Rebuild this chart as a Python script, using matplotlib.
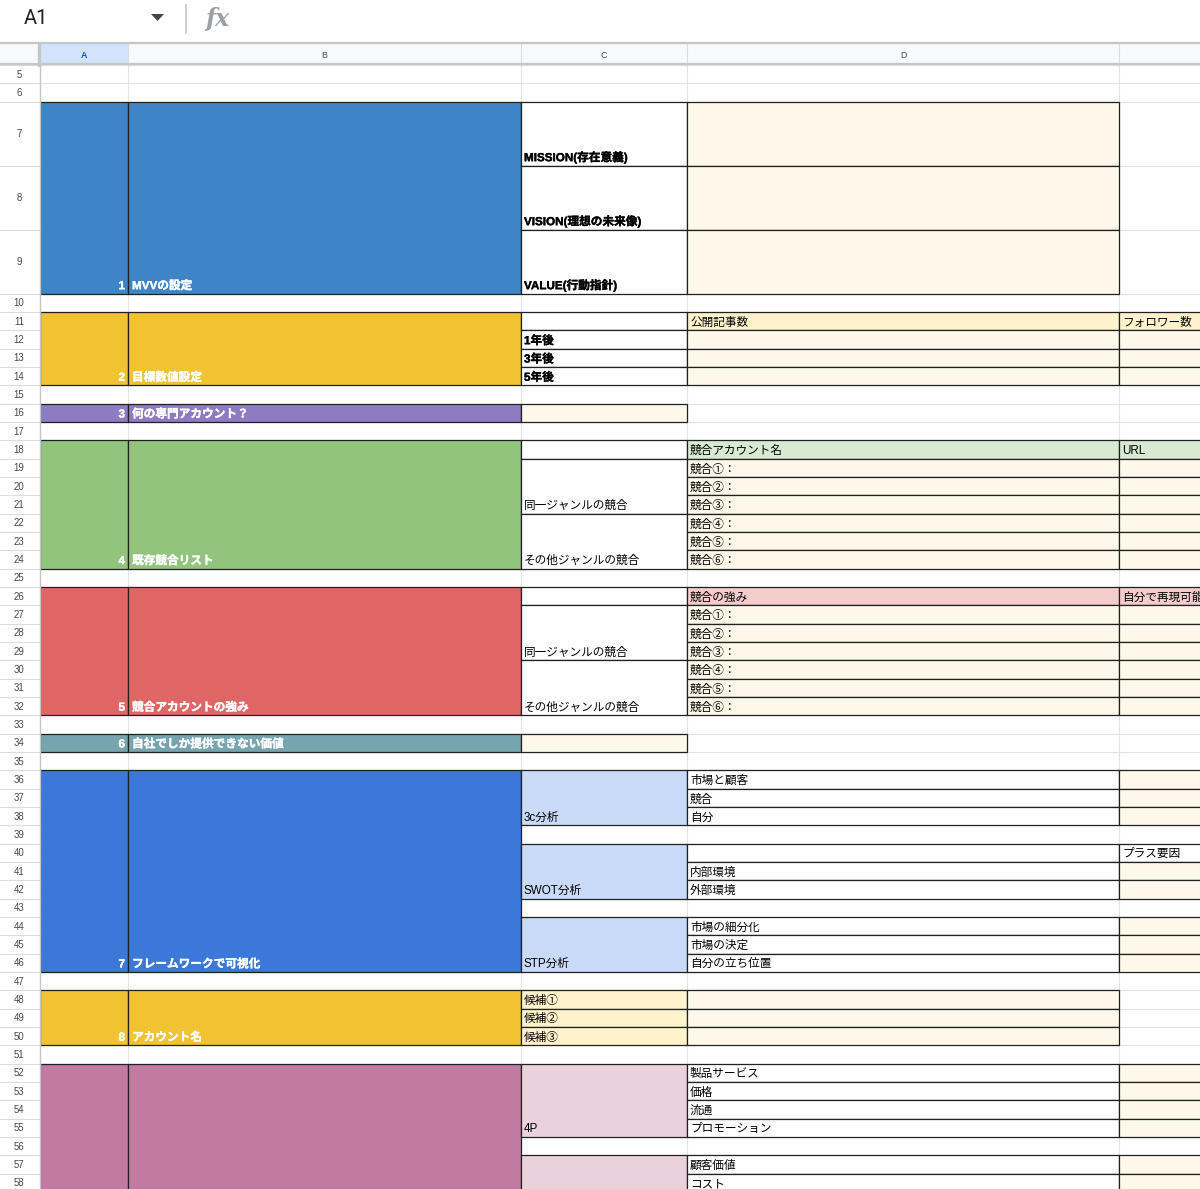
import matplotlib
matplotlib.use('Agg')
import matplotlib.pyplot as plt
import matplotlib.patheffects as pe
from matplotlib.patches import Rectangle, Polygon

# ---------------- data ----------------
col_letters = ['A', 'B', 'C', 'D', 'E']
row_numbers = list(range(5, 59))
tall_rows = [7, 8, 9]

block_nums = ['1', '2', '3', '4', '5', '6', '7', '8', '']
block_labels = ['MVVの設定', '目標数値設定', '何の専門アカウント？', '既存競合リスト',
                '競合アカウントの強み', '自社でしか提供できない価値', 'フレームワークで可視化',
                'アカウント名', '']
block_rows = [(7, 9), (11, 14), (16, 16), (18, 24), (26, 32), (34, 34), (36, 46), (48, 50), (52, 60)]
block_colors = ['#3d85c6', '#f1c232', '#8e7cc3', '#93c47d', '#e06666', '#76a5af',
                '#3c78d8', '#f1c232', '#c27ba0']

WHITE = '#ffffff'
CREAM = '#fdf8ea'
YHDR = '#fff2cc'
GHDR = '#d9ead3'
RHDR = '#f4cccc'
LBLUE = '#c9daf8'
LPINK = '#ead1dc'

# (first row, last row, text, fill, bold)
c_cells = [
    (7, 7, 'MISSION(存在意義)', WHITE, True),
    (8, 8, 'VISION(理想の未来像)', WHITE, True),
    (9, 9, 'VALUE(行動指針)', WHITE, True),
    (11, 11, '', WHITE, False),
    (12, 12, '1年後', WHITE, True),
    (13, 13, '3年後', WHITE, True),
    (14, 14, '5年後', WHITE, True),
    (16, 16, '', CREAM, False),
    (18, 18, '', WHITE, False),
    (19, 21, '同一ジャンルの競合', WHITE, False),
    (22, 24, 'その他ジャンルの競合', WHITE, False),
    (26, 26, '', WHITE, False),
    (27, 29, '同一ジャンルの競合', WHITE, False),
    (30, 32, 'その他ジャンルの競合', WHITE, False),
    (34, 34, '', CREAM, False),
    (36, 38, '3c分析', LBLUE, False),
    (40, 42, 'SWOT分析', LBLUE, False),
    (44, 46, 'STP分析', LBLUE, False),
    (48, 48, '候補①', YHDR, False),
    (49, 49, '候補②', YHDR, False),
    (50, 50, '候補③', YHDR, False),
    (52, 55, '4P', LPINK, False),
    (57, 60, '', LPINK, False),
]

d_cells = [
    (7, 7, '', CREAM, False), (8, 8, '', CREAM, False), (9, 9, '', CREAM, False),
    (11, 11, '公開記事数', YHDR, False),
    (12, 12, '', CREAM, False), (13, 13, '', CREAM, False), (14, 14, '', CREAM, False),
    (18, 18, '競合アカウント名', GHDR, False),
    (19, 19, '競合①：', CREAM, False), (20, 20, '競合②：', CREAM, False),
    (21, 21, '競合③：', CREAM, False), (22, 22, '競合④：', CREAM, False),
    (23, 23, '競合⑤：', CREAM, False), (24, 24, '競合⑥：', CREAM, False),
    (26, 26, '競合の強み', RHDR, False),
    (27, 27, '競合①：', CREAM, False), (28, 28, '競合②：', CREAM, False),
    (29, 29, '競合③：', CREAM, False), (30, 30, '競合④：', CREAM, False),
    (31, 31, '競合⑤：', CREAM, False), (32, 32, '競合⑥：', CREAM, False),
    (36, 36, '市場と顧客', WHITE, False), (37, 37, '競合', WHITE, False),
    (38, 38, '自分', WHITE, False),
    (40, 40, '', WHITE, False),
    (41, 41, '内部環境', WHITE, False), (42, 42, '外部環境', WHITE, False),
    (44, 44, '市場の細分化', WHITE, False), (45, 45, '市場の決定', WHITE, False),
    (46, 46, '自分の立ち位置', WHITE, False),
    (48, 48, '', CREAM, False), (49, 49, '', CREAM, False), (50, 50, '', CREAM, False),
    (52, 52, '製品サービス', WHITE, False), (53, 53, '価格', WHITE, False),
    (54, 54, '流通', WHITE, False), (55, 55, 'プロモーション', WHITE, False),
    (57, 57, '顧客価値', WHITE, False), (58, 58, 'コスト', WHITE, False),
]

e_cells = [
    (11, 11, 'フォロワー数', YHDR, False),
    (12, 12, '', CREAM, False), (13, 13, '', CREAM, False), (14, 14, '', CREAM, False),
    (18, 18, 'URL', GHDR, False),
    (19, 19, '', CREAM, False), (20, 20, '', CREAM, False), (21, 21, '', CREAM, False),
    (22, 22, '', CREAM, False), (23, 23, '', CREAM, False), (24, 24, '', CREAM, False),
    (26, 26, '自分で再現可能な強み', RHDR, False),
    (27, 27, '', CREAM, False), (28, 28, '', CREAM, False), (29, 29, '', CREAM, False),
    (30, 30, '', CREAM, False), (31, 31, '', CREAM, False), (32, 32, '', CREAM, False),
    (36, 36, '', CREAM, False), (37, 37, '', CREAM, False), (38, 38, '', CREAM, False),
    (40, 40, 'プラス要因', WHITE, False),
    (41, 41, '', CREAM, False), (42, 42, '', CREAM, False),
    (44, 44, '', CREAM, False), (45, 45, '', CREAM, False), (46, 46, '', CREAM, False),
    (52, 52, '', CREAM, False), (53, 53, '', CREAM, False), (54, 54, '', CREAM, False),
    (55, 55, '', CREAM, False),
    (57, 57, '', CREAM, False), (58, 58, '', CREAM, False),
]

# ---------------- layout ----------------
W, H = 1200, 1189
col_edges = [40, 128, 521, 687, 1119, 1300]
SMALL, TALL = 18.33, 64.0
HEADER_TOP, HEADER_BOTTOM = 44.0, 65.0

row_top = {}
y = HEADER_BOTTOM
for r in range(5, 62):
    row_top[r] = y
    y += TALL if r in tall_rows else SMALL


def rtop(r):
    return row_top[r]


def rbot(r):
    return row_top[r + 1]


FONT = ['Liberation Sans', 'Noto Sans CJK JP', 'DejaVu Sans']
FS = 8.4
GRID = '#e2e3e3'
BORDER = '#202020'

fig = plt.figure(figsize=(12, 11.89), dpi=100)
ax = fig.add_axes([0, 0, 1, 1])
ax.set_xlim(0, W)
ax.set_ylim(H, 0)
ax.axis('off')

# ---------------- grid ----------------
for r in range(5, 60):
    ax.plot([0, W], [rtop(r), rtop(r)], color=GRID, lw=0.8, zorder=1)
for xe in col_edges:
    ax.plot([xe, xe], [HEADER_BOTTOM, H], color=GRID, lw=0.8, zorder=1)


def cell(x0, x1, y0, y1, fill, edge=BORDER, lw=0.9, z=2):
    ax.add_patch(Rectangle((x0, y0), x1 - x0, y1 - y0, facecolor=fill,
                           edgecolor=edge, lw=lw, zorder=z))


def put_text(x, yb, s, bold=False, color='#000000', ha='left'):
    if s:
        t = ax.text(x, yb, s, ha=ha, va='baseline', fontsize=FS, color=color,
                    fontweight='bold' if bold else 'normal', family=FONT, zorder=6,
                    clip_on=True)
        if bold:
            t.set_path_effects([pe.withStroke(linewidth=0.25, foreground=color)])


# ---------------- blocks in A/B ----------------
for num, lab, (r0, r1), colr in zip(block_nums, block_labels, block_rows, block_colors):
    y0, y1 = rtop(r0), rbot(r1)
    cell(col_edges[0], col_edges[1], y0, y1, colr)
    cell(col_edges[1], col_edges[2], y0, y1, colr)
    put_text(col_edges[1] - 3, y1 - 4.5, num, bold=True, color='white', ha='right')
    put_text(col_edges[1] + 4, y1 - 4.5, lab, bold=True, color='white')

# ---------------- C / D / E cells ----------------
for ci, cells in ((2, c_cells), (3, d_cells), (4, e_cells)):
    x0, x1 = col_edges[ci], col_edges[ci + 1]
    for r0, r1, s, fill, bold in cells:
        y0, y1 = rtop(r0), rbot(r1)
        cell(x0, x1, y0, y1, fill)
        put_text(x0 + 3, y1 - 4.5, s, bold=bold)

# ---------------- row header ----------------
ax.add_patch(Rectangle((0, HEADER_BOTTOM), 40, H - HEADER_BOTTOM, facecolor='white',
                       edgecolor='none', zorder=7))
for r in row_numbers:
    y0, y1 = rtop(r), rbot(r)
    ax.plot([0, 40], [y0, y0], color='#dcdcdc', lw=0.8, zorder=8)
    ax.text(19, (y0 + y1) / 2 + 0.5, str(r), ha='center', va='center', fontsize=6.9,
            color='#444746', family=FONT, zorder=9)
ax.plot([40, 40], [HEADER_BOTTOM, H], color='#c4c7c5', lw=1.0, zorder=9)

# ---------------- column header ----------------
ax.add_patch(Rectangle((0, HEADER_TOP), W, HEADER_BOTTOM - HEADER_TOP, facecolor='#f8f9fa',
                       edgecolor='none', zorder=10))
ax.add_patch(Rectangle((col_edges[0], HEADER_TOP), col_edges[1] - col_edges[0],
                       HEADER_BOTTOM - HEADER_TOP, facecolor='#d3e3fd', edgecolor='none',
                       zorder=11))
for i, letter in enumerate(col_letters):
    x0, x1 = col_edges[i], col_edges[i + 1]
    ax.plot([x0, x0], [HEADER_TOP, HEADER_BOTTOM], color='#dadce0', lw=0.8, zorder=12)
    xc = (x0 + x1) / 2
    if xc < W:
        ax.text(xc, (HEADER_TOP + HEADER_BOTTOM) / 2 + 0.5, letter, ha='center', va='center',
                fontsize=6.4, color='#0b57d0' if i == 0 else '#444746',
                fontweight='bold' if i == 0 else 'normal', family=FONT, zorder=13)
ax.plot([0, W], [HEADER_BOTTOM - 1, HEADER_BOTTOM - 1], color='#c4c7c5', lw=1.6, zorder=13)
ax.plot([39, 39], [HEADER_TOP, HEADER_BOTTOM], color='#c4c7c5', lw=2.4, zorder=13)

# ---------------- toolbar ----------------
ax.plot([0, W], [43.2, 43.2], color='#c4c7c5', lw=1.6, zorder=14)
ax.text(24, 18, 'A1', ha='left', va='center', fontsize=14.5, color='#1f1f1f',
        family=['Roboto', 'DejaVu Sans'], zorder=14)
ax.add_patch(Polygon([[151, 14], [164, 14], [157.5, 21]], closed=True, facecolor='#444746',
                     edgecolor='none', zorder=14))
ax.plot([186, 186], [5, 33], color='#c4c7c5', lw=1.2, zorder=14)
ax.text(205, 19, 'fx', ha='left', va='center', fontsize=17, color='#9aa0a6',
        fontstyle='italic', fontweight='bold', family=['DejaVu Serif'], zorder=14)

fig.savefig('out.png', dpi=100)
